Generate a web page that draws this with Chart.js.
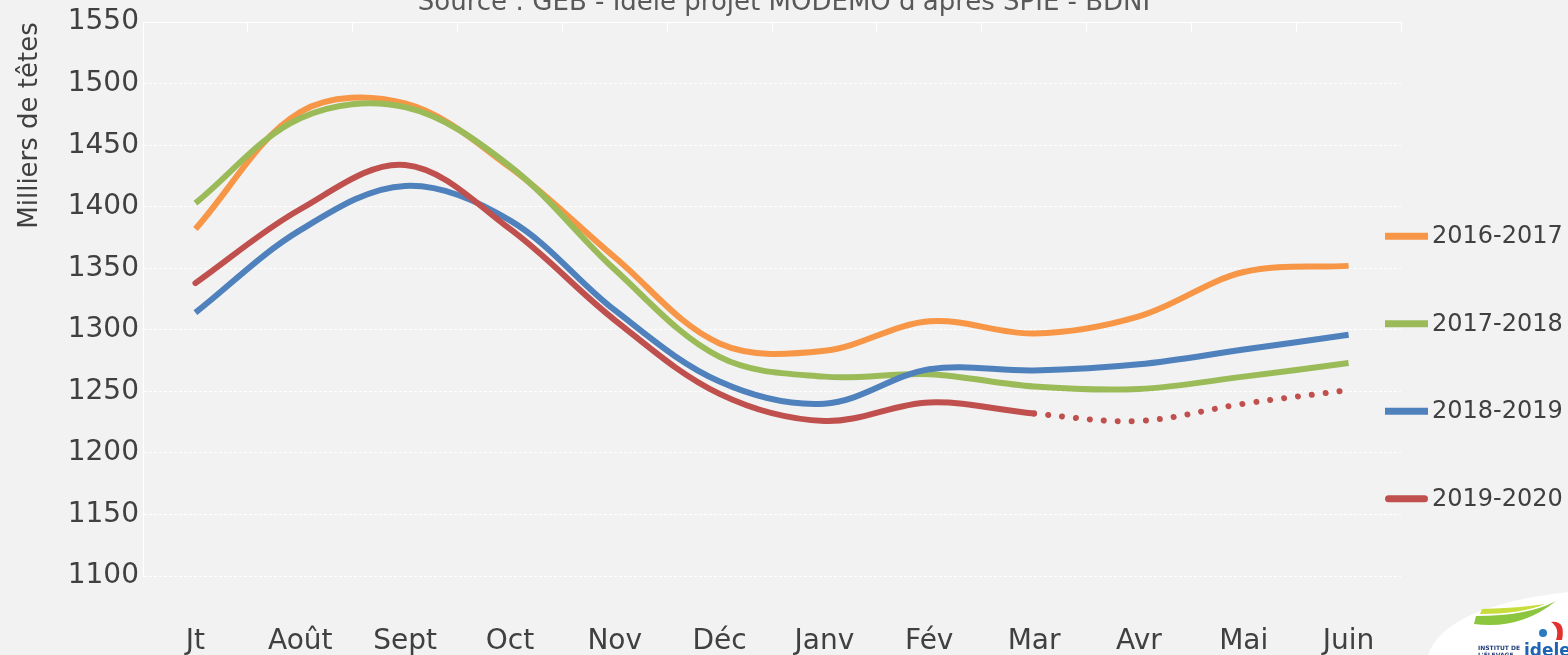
<!DOCTYPE html>
<html>
<head>
<meta charset="utf-8">
<script src="https://cdn.jsdelivr.net/npm/chart.js@4.4.1/dist/chart.umd.min.js"></script>
<style>
  html, body { margin: 0; padding: 0; background: #f2f2f2; }
  canvas { display: block; }
</style>
</head>
<body>
<canvas id="c" width="1568" height="655"></canvas>
<script>
// ---- Data ----
const categories = ['Jt', 'Août', 'Sept', 'Oct', 'Nov', 'Déc', 'Janv', 'Fév', 'Mar', 'Avr', 'Mai', 'Juin'];
const seriesNames = ['2016-2017', '2017-2018', '2018-2019', '2019-2020'];
const s2016_2017 = [1382, 1477, 1484, 1432, 1359, 1289, 1283, 1307, 1297, 1311, 1347, 1352];
const s2017_2018 = [1403, 1472, 1481, 1433, 1349, 1278, 1262, 1264, 1254, 1252, 1262, 1273];
const s2018_2019 = [1314, 1381, 1417, 1389, 1316, 1258, 1240, 1268, 1267, 1272, 1284, 1296];
const s2019_2020 = [1338, 1398, 1434, 1382, 1308, 1248, 1226, 1241, 1232, 1226, 1240, 1251];
const yMin = 1100, yMax = 1550, yStep = 50;
const projectedFromIndex = 8; // 2019-2020 dotted from 'Mar'
const titleText = "Source : GEB - Idele projet MODEMO d'après SPIE - BDNI";
const yTitleText = 'Milliers de têtes';

// ---- Styles ----
const FONT = "'DejaVu Sans', sans-serif";
const TEXT = '#404040';
const colors = ['#F79646', '#9BBB59', '#4F81BD', '#C0504D'];
const seriesValues = [s2016_2017, s2017_2018, s2018_2019, s2019_2020];

const datasets = seriesNames.map((name, i) => {
  const ds = {
    label: name,
    data: seriesValues[i],
    borderColor: colors[i],
    backgroundColor: colors[i],
    borderWidth: 6,
    pointRadius: 0,
    pointHoverRadius: 0,
    tension: 0.35,
    fill: false,
    order: 3 - i,
    xAxisID: 'x',
    yAxisID: 'y',
    borderCapStyle: i === 3 ? 'round' : 'butt',
    borderJoinStyle: 'round'
  };
  if (i === 3) {
    ds.segment = { borderDash: c => (c.p0DataIndex >= projectedFromIndex ? [0.01, 14] : undefined) };
  }
  return ds;
});

const sideLegend = {
  id: 'sideLegend',
  afterDraw(chart) {
    const { ctx, chartArea } = chart;
    const x0 = chartArea.right - 16, lineLen = 43, gap = 4;
    const y0 = chartArea.top + 214, step = 87.5;
    ctx.save();
    chart.data.datasets.forEach((ds, i) => {
      const y = y0 + i * step;
      const round = ds.borderCapStyle === 'round';
      ctx.setLineDash([]);
      ctx.strokeStyle = ds.borderColor;
      ctx.lineWidth = 7;
      ctx.lineCap = round ? 'round' : 'butt';
      const inset = round ? 3.5 : 0;
      ctx.beginPath();
      ctx.moveTo(x0 + inset, y);
      ctx.lineTo(x0 + lineLen - inset, y);
      ctx.stroke();
      ctx.fillStyle = TEXT;
      ctx.font = '24px ' + FONT;
      ctx.textBaseline = 'middle';
      ctx.textAlign = 'left';
      ctx.fillText(ds.label, x0 + lineLen + gap, y + 1);
    });
    ctx.restore();
  }
};

const logo = {
  id: 'logo',
  afterDraw(chart) {
    const ctx = chart.ctx;
    ctx.save();
    ctx.fillStyle = '#ffffff';
    ctx.beginPath();
    ctx.moveTo(1428, 655);
    ctx.quadraticCurveTo(1445, 606, 1568, 592);
    ctx.lineTo(1568, 655);
    ctx.closePath();
    ctx.fill();
    // swoosh
    ctx.fillStyle = '#8cc63e';
    ctx.beginPath();
    ctx.moveTo(1474, 624);
    ctx.quadraticCurveTo(1520, 630, 1556, 601);
    ctx.quadraticCurveTo(1528, 616, 1476, 616);
    ctx.closePath();
    ctx.fill();
    ctx.fillStyle = '#c8dc3c';
    ctx.beginPath();
    ctx.moveTo(1480, 614);
    ctx.quadraticCurveTo(1522, 614, 1545, 604);
    ctx.quadraticCurveTo(1520, 608, 1482, 609);
    ctx.closePath();
    ctx.fill();
    // drop + red
    ctx.fillStyle = '#2a7cc0';
    ctx.beginPath();
    ctx.arc(1543, 633, 4, 0, Math.PI * 2);
    ctx.fill();
    ctx.fillStyle = '#e3312d';
    ctx.beginPath();
    ctx.moveTo(1551, 622);
    ctx.quadraticCurveTo(1566, 620, 1562, 640);
    ctx.lineTo(1556, 640);
    ctx.quadraticCurveTo(1560, 628, 1551, 622);
    ctx.fill();
    ctx.fillStyle = '#1d3c78';
    ctx.font = 'bold 6px ' + FONT;
    ctx.textBaseline = 'alphabetic';
    ctx.fillText('INSTITUT DE', 1478, 650);
    ctx.fillText("L'ÉLEVAGE", 1478, 657);
    ctx.fillStyle = '#1f64b4';
    ctx.font = 'bold 17px ' + FONT;
    ctx.fillText('idele', 1524, 656);
    ctx.restore();
  }
};

new Chart(document.getElementById('c'), {
  type: 'line',
  data: { labels: categories, datasets },
  plugins: [sideLegend, logo],
  options: {
    responsive: false,
    animation: false,
    devicePixelRatio: 1,
    layout: { padding: 0 },
    events: [],
    plugins: {
      legend: { display: false },
      tooltip: { enabled: false },
      title: {
        display: true,
        text: titleText,
        color: '#595959',
        font: { family: FONT, size: 26, weight: 'normal' },
        padding: { top: -12, bottom: 3 }
      }
    },
    scales: {
      x: {
        type: 'category',
        position: 'bottom',
        offset: true,
        grid: { display: false },
        border: { display: false },
        ticks: {
          color: TEXT,
          font: { family: FONT, size: 28 },
          padding: 41,
          maxRotation: 0,
          autoSkip: false
        },
        afterFit(s) { s.height = 79; }
      },
      xTop: {
        type: 'category',
        position: 'top',
        offset: true,
        ticks: { display: false },
        grid: { offset: true, drawOnChartArea: false, drawTicks: true, tickLength: -10, tickColor: '#ffffff', color: '#ffffff', lineWidth: 1 },
        border: { display: false },
        afterFit(s) { s.height = 0; }
      },
      y: {
        type: 'linear',
        position: 'left',
        min: yMin,
        max: yMax,
        ticks: {
          stepSize: yStep,
          color: TEXT,
          font: { family: FONT, size: 28 },
          padding: 4,
          callback: v => String(v)
        },
        grid: { color: '#ffffff', lineWidth: 1, drawTicks: false },
        border: {
          display: true,
          color: '#ffffff',
          width: 1,
          dash: c => (c.tick && c.tick.value === yMax ? [] : [3, 2])
        },
        title: {
          display: true,
          text: yTitleText,
          align: 'end',
          color: TEXT,
          font: { family: FONT, size: 26 },
          padding: { top: 15, bottom: 0 }
        },
        afterFit(s) { s.width = 143; }
      },
      yRight: {
        type: 'linear',
        position: 'right',
        ticks: { display: false },
        grid: { display: false },
        border: { display: false },
        afterFit(s) { s.width = 167; }
      }
    }
  }
});
</script>
</body>
</html>
